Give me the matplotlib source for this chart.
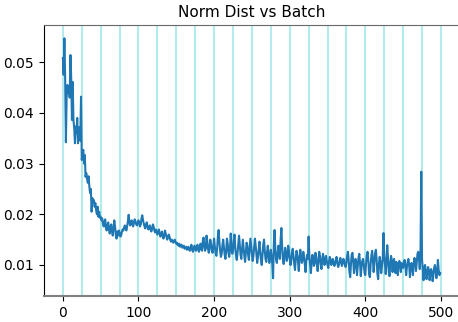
import numpy as np
import matplotlib
matplotlib.use("Agg")
import matplotlib.pyplot as plt

# norm distance per batch (units of 1e-4)
norm_dist_e4 = [
    508, 475, 547, 470, 342, 432, 455, 440, 452, 430, 514, 470, 386, 461, 386, 370, 340, 373, 360, 390, 340, 355, 372, 345, 432,
    307, 320, 327, 300, 317, 274, 281, 270, 262, 275, 255, 242, 250, 205, 232, 225, 228, 215, 222, 208, 200, 215, 195, 205, 193,
    195, 188, 192, 182, 176, 185, 190, 172, 168, 178, 184, 170, 162, 175, 180, 166, 158, 172, 188, 176, 160, 152, 166, 158, 168,
    164, 156, 158, 165, 170, 168, 174, 178, 172, 168, 176, 186, 199, 185, 178, 182, 188, 180, 176, 184, 190, 186, 180, 178, 184,
    188, 182, 176, 180, 192, 198, 188, 182, 176, 172, 180, 184, 176, 170, 174, 178, 170, 166, 172, 180, 176, 168, 164, 170, 166,
    160, 164, 170, 162, 156, 160, 166, 158, 152, 158, 168, 162, 156, 150, 154, 160, 156, 150, 146, 150, 148, 144, 146, 150, 145,
    142, 144, 140, 138, 142, 136, 138, 140, 134, 136, 138, 132, 134, 136, 130, 132, 136, 130, 128, 134, 140, 130, 126, 132, 138,
    132, 128, 136, 140, 130, 126, 134, 142, 132, 128, 146, 154, 138, 128, 132, 158, 146, 132, 124, 136, 150, 140, 128, 124, 138,
    152, 136, 124, 118, 132, 156, 169, 146, 128, 116, 122, 138, 150, 134, 120, 112, 128, 152, 142, 124, 116, 130, 162, 136, 122,
    128, 148, 160, 134, 118, 110, 124, 142, 158, 138, 120, 112, 130, 150, 134, 118, 106, 124, 144, 138, 120, 110, 132, 152, 136,
    122, 108, 118, 136, 152, 138, 120, 104, 116, 132, 146, 126, 110, 100, 120, 140, 150, 128, 112, 106, 124, 138, 120, 104, 114,
    130, 118, 102, 74, 140, 169, 132, 110, 104, 122, 138, 126, 112, 150, 173, 136, 112, 102, 118, 134, 124, 108, 116, 138, 128,
    112, 100, 108, 124, 132, 116, 102, 90, 112, 128, 120, 106, 88, 114, 130, 118, 104, 110, 126, 116, 100, 86, 108, 120, 112,
    156, 118, 100, 84, 106, 120, 112, 98, 104, 124, 116, 100, 88, 108, 126, 118, 102, 92, 110, 122, 114, 100, 106, 118, 108,
    100, 94, 106, 116, 110, 100, 104, 112, 106, 98, 102, 110, 116, 104, 96, 100, 108, 114, 106, 98, 104, 112, 108, 100, 96,
    104, 118, 126, 110, 86, 76, 102, 120, 124, 108, 84, 100, 112, 106, 80, 98, 114, 122, 104, 78, 96, 108, 112, 100, 84,
    80, 104, 120, 126, 108, 82, 76, 100, 118, 128, 112, 86, 104, 124, 130, 110, 82, 72, 102, 116, 106, 84, 98, 112, 163,
    120, 100, 82, 108, 139, 114, 88, 78, 104, 118, 110, 86, 102, 112, 100, 84, 106, 98, 80, 102, 108, 100, 86, 104, 100,
    94, 104, 110, 98, 80, 96, 106, 112, 100, 76, 92, 104, 98, 80, 102, 114, 108, 88, 104, 122, 126, 112, 92, 130, 284,
    110, 94, 70, 92, 100, 88, 72, 84, 96, 90, 70, 82, 92, 86, 68, 80, 94, 100, 88, 74, 86, 110, 90, 80, 84,
]
epoch_marks = list(range(0, 501, 25))

norm_dist = np.array(norm_dist_e4) / 1e4
batches = np.arange(len(norm_dist))

fig = plt.figure(figsize=(4.58, 3.22), dpi=100)
ax = fig.add_axes([0.096, 0.081, 0.908, 0.841])

for m in epoch_marks:
    ax.axvline(m, color='c', alpha=0.3, lw=1.5, zorder=1)
ax.plot(batches, norm_dist, color='tab:blue', lw=1.5, zorder=2)

ax.set_xlim(-25, 525)
ax.set_ylim(0.0039, 0.0573)
ax.set_xticks([0, 100, 200, 300, 400, 500])
ax.set_yticks([0.01, 0.02, 0.03, 0.04, 0.05])
ax.set_title('Norm Dist vs Batch', fontsize=11)

ax.spines['right'].set_visible(False)
ax.spines['top'].set_color('dimgray')
ax.spines['bottom'].set_color('gray')
ax.spines['bottom'].set_linewidth(1.5)
ax.tick_params(labelsize=10)

fig.savefig('out.png', dpi=100)
